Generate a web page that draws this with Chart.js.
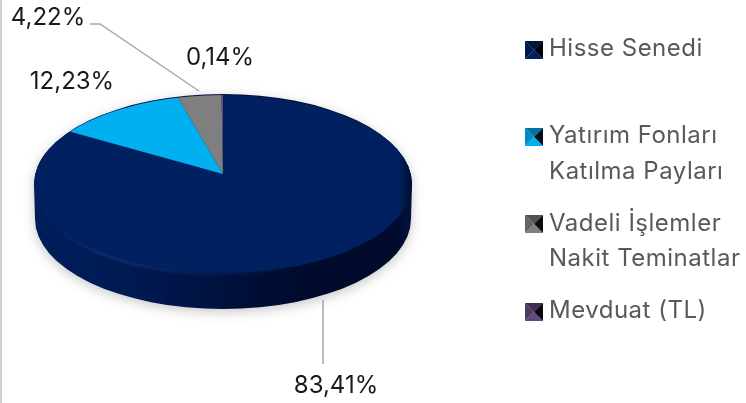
<!DOCTYPE html>
<html lang="tr">
<head>
<meta charset="utf-8">
<style>
  html, body { margin: 0; padding: 0; background: #fff; overflow: hidden; }
  #grafik { display: block; position: absolute; left: 0; top: 0; }
  #kenar { position: absolute; left: 0; top: 0; width: 2px; height: 403px; background: #cfcfcf; }
</style>
</head>
<body>
<canvas id="grafik" width="746" height="403"></canvas>
<div id="kenar"></div>
<script src="https://cdn.jsdelivr.net/npm/chart.js@4"></script>
<script>
// Veriler
const kategoriler = ["Hisse Senedi", "Yatırım Fonları Katılma Payları", "Vadeli İşlemler Nakit Teminatlar", "Mevduat (TL)"];
const degerler = [83.41, 12.23, 4.22, 0.14];
const renkler = ["#00205f", "#00b0f0", "#7f7f7f", "#604a7b"];
const yuzdeEtiketleri = ["83,41%", "12,23%", "4,22%", "0,14%"];

// Yerlesim (veri degil)
const disk = { cx: 223, cy: 184, rx: 189, ry: 90, derinlik: 35 };
const tepe = { cx: 223, cy: 174, rx: 185, ry: 88 };
const etiketYeri = [[336, 386], [72, 82], [48, 18], [220, 58]];
const kilavuzlar = [
    [[323, 300], [323, 364]],
    [[90, 24], [100, 24], [199, 91]]
];
const lejant = [
    { kutuY: 41, satirlar: [["Hisse Senedi", 49]] },
    { kutuY: 128, satirlar: [["Yatırım Fonları", 136], ["Katılma Payları", 172]] },
    { kutuY: 215, satirlar: [["Vadeli İşlemler", 224], ["Nakit Teminatlar", 259]] },
    { kutuY: 303, satirlar: [["Mevduat (TL)", 311]] }
];
const kutuX = 525;
const kutuB = 18;

function diskCiz(ctx) {
    const { cx, cy, rx, ry, derinlik } = disk;

    // golge ve yan duvar
    const duvar = ctx.createLinearGradient(cx - rx, 0, cx + rx, 0);
    duvar.addColorStop(0, "#001e5c");
    duvar.addColorStop(0.3, "#001850");
    duvar.addColorStop(0.55, "#000f38");
    duvar.addColorStop(0.78, "#000a2a");
    duvar.addColorStop(0.95, "#000a2a");
    duvar.addColorStop(1, "#00123e");
    ctx.save();
    ctx.shadowColor = "rgba(0,0,0,0.22)";
    ctx.shadowBlur = 12;
    ctx.shadowOffsetY = 3;
    ctx.fillStyle = duvar;
    ctx.beginPath();
    ctx.ellipse(cx, cy + derinlik, rx - 1, ry, 0, 0, Math.PI);
    ctx.lineTo(cx - rx, cy);
    ctx.ellipse(cx, cy, rx, ry, 0, Math.PI, 0);
    ctx.closePath();
    ctx.fill();
    ctx.restore();

    // kenar parlamasi
    const isik = ctx.createLinearGradient(cx - rx, 0, cx + rx, 0);
    isik.addColorStop(0, "rgba(30,60,130,0)");
    isik.addColorStop(0.18, "rgba(45,75,150,0.85)");
    isik.addColorStop(0.48, "rgba(30,60,130,0.4)");
    isik.addColorStop(0.7, "rgba(30,60,130,0)");
    ctx.save();
    ctx.strokeStyle = isik;
    ctx.lineWidth = 3;
    ctx.filter = "blur(2px)";
    ctx.beginPath();
    ctx.ellipse(cx, cy, rx - 1, ry - 1, 0, 0, Math.PI);
    ctx.stroke();
    ctx.restore();
}

// ust yuzun sag kenari koyulasir
function sagKenarCiz(ctx) {
    const { cx, cy, rx, ry } = disk;
    const sag = ctx.createLinearGradient(cx + rx - 14, 0, cx + rx, 0);
    sag.addColorStop(0, "rgba(0,8,36,0)");
    sag.addColorStop(1, "rgba(0,8,36,0.8)");
    ctx.save();
    ctx.beginPath();
    ctx.ellipse(cx, cy, rx, ry, 0, 0, Math.PI * 2);
    ctx.clip();
    ctx.fillStyle = sag;
    ctx.fillRect(cx + rx - 14, cy - ry, 14, ry * 2);
    ctx.restore();
}

const pastaEklentisi = {
    id: "pasta3b",
    beforeDatasetDraw(chart, args) {
        const ctx = chart.ctx;
        const dilimler = chart.getDatasetMeta(args.index).data;
        diskCiz(ctx);

        // buyuk dilim alttan tum diski kaplar, kucuk dilimler perspektif tepe noktasindan cikar
        ctx.save();
        ctx.beginPath();
        ctx.ellipse(disk.cx, disk.cy, disk.rx, disk.ry - 1, 0, 0, Math.PI * 2);
        ctx.clip();
        ctx.fillStyle = renkler[0];
        ctx.fill();
        dilimler.forEach((dilim, i) => {
            const h = i === 0 ? disk : tepe;
            const R = dilim.outerRadius;
            ctx.save();
            ctx.translate(h.cx, h.cy);
            ctx.scale(h.rx / R, h.ry / R);
            ctx.translate(-dilim.x, -dilim.y);
            dilim.draw(ctx);
            ctx.restore();
        });
        ctx.restore();
        sagKenarCiz(ctx);
        return false;
    },
    afterDraw(chart) {
        const ctx = chart.ctx;
        ctx.save();

        ctx.strokeStyle = "#a6a6a6";
        ctx.lineWidth = 1.5;
        kilavuzlar.forEach(cizgi => {
            ctx.beginPath();
            cizgi.forEach((p, i) => (i ? ctx.lineTo(p[0], p[1]) : ctx.moveTo(p[0], p[1])));
            ctx.stroke();
        });

        ctx.font = "24px Inter";
        ctx.fillStyle = "#1a1a1a";
        ctx.textAlign = "center";
        ctx.textBaseline = "middle";
        yuzdeEtiketleri.forEach((t, i) => ctx.fillText(t, etiketYeri[i][0], etiketYeri[i][1]));

        ctx.font = "24px Inter";
        ctx.letterSpacing = "0.5px";
        ctx.textAlign = "left";
        lejant.forEach((l, i) => {
            kutuCiz(ctx, kutuX, l.kutuY, kutuB, renkler[i]);
            ctx.fillStyle = "#595959";
            l.satirlar.forEach(s => ctx.fillText(s[0], 549, s[1]));
        });
        ctx.restore();
    }
};

// lejant kutusu: ortasi koyu piramit gorunumlu kare
function kutuCiz(ctx, x, y, b, renk) {
    const o = [x + b / 2, y + b / 2];
    const koseler = [[x, y], [x + b, y], [x + b, y + b], [x, y + b]];
    const golgeler = [0.35, 0.9, 0, 0.2];
    koseler.forEach((k, i) => {
        const s = koseler[(i + 1) % 4];
        ctx.beginPath();
        ctx.moveTo(k[0], k[1]);
        ctx.lineTo(s[0], s[1]);
        ctx.lineTo(o[0], o[1]);
        ctx.closePath();
        ctx.fillStyle = renk;
        ctx.fill();
        ctx.fillStyle = "rgba(0,0,0," + golgeler[i] + ")";
        ctx.fill();
    });
}

new Chart(document.getElementById("grafik"), {
    type: "pie",
    data: {
        labels: kategoriler,
        datasets: [{
            data: degerler,
            backgroundColor: renkler,
            borderWidth: 0
        }]
    },
    options: {
        responsive: false,
        animation: false,
        plugins: {
            legend: { display: false },
            tooltip: { enabled: false }
        }
    },
    plugins: [pastaEklentisi]
});
</script>
</body>
</html>
